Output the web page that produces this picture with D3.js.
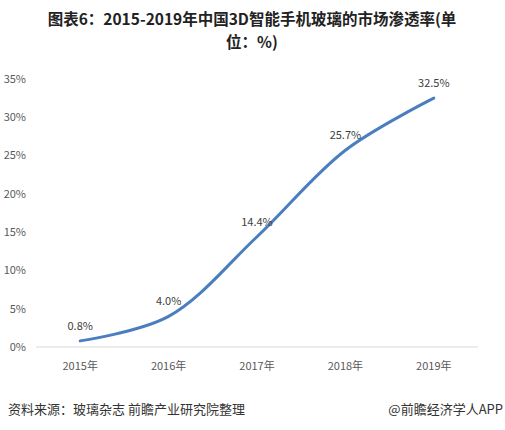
<!DOCTYPE html>
<html><head><meta charset="utf-8">
<script src="https://cdn.jsdelivr.net/npm/d3@7"></script>
<style>body{margin:0;background:#fff;}svg{display:block;font-family:"Microsoft YaHei","Noto Sans CJK SC",sans-serif;}</style>
</head><body>
<svg id="c" width="505" height="430"></svg>
<script>
const categories = ["2015年","2016年","2017年","2018年","2019年"];
const values = [0.8, 4.0, 14.4, 25.7, 32.5];
const valueLabels = ["0.8%","4.0%","14.4%","25.7%","32.5%"];
const yTicks = [0,5,10,15,20,25,30,35];

const svg = d3.select("#c");
svg.append("rect").attr("width",505).attr("height",430).attr("fill","#fff");

const x = d3.scaleBand().domain(categories).range([36,478]);
const y = d3.scaleLinear().domain([0,35]).range([347,79]);

// title
const title = svg.append("text").attr("text-anchor","middle").attr("fill","#222")
  .style("font-weight","bold").style("font-size","15.5px");
title.append("tspan").attr("x",252).attr("y",25).text("图表6：2015-2019年中国3D智能手机玻璃的市场渗透率(单");
title.append("tspan").attr("x",252).attr("y",48).text("位：%)");

// y axis labels
svg.append("g").selectAll("text").data(yTicks).join("text")
  .attr("x",26).attr("y",d=>y(d)).attr("dy","0.35em").attr("text-anchor","end")
  .attr("fill","#595959").style("font-size","11px").text(d=>d+"%");

// x axis
svg.append("line").attr("x1",x.range()[0]).attr("x2",x.range()[1])
  .attr("y1",y(0)).attr("y2",y(0)).attr("stroke","#d9d9d9").attr("stroke-width",1);
svg.append("g").selectAll("text").data(categories).join("text")
  .attr("x",d=>x(d)+x.bandwidth()/2).attr("y",366).attr("dy","0.35em").attr("text-anchor","middle")
  .attr("fill","#595959").style("font-size","11px").text(d=>d);

// line
const line = d3.line().x((d,i)=>x(categories[i])+x.bandwidth()/2).y(d=>y(d)).curve(d3.curveCatmullRom.alpha(0.5));
svg.append("path").datum(values).attr("d",line).attr("fill","none")
  .attr("stroke","#4a7ebf").attr("stroke-width",3).attr("stroke-linecap","round");

// labels
svg.append("g").selectAll("text").data(values).join("text")
  .attr("x",(d,i)=>x(categories[i])+x.bandwidth()/2).attr("y",d=>y(d)-15).attr("dy","0.35em")
  .attr("text-anchor","middle").attr("fill","#404040").style("font-size","11px")
  .text((d,i)=>valueLabels[i]);

// footer
svg.append("text").attr("x",8).attr("y",414).attr("fill","#333").style("font-size","13px")
  .text("资料来源：玻璃杂志 前瞻产业研究院整理");
svg.append("text").attr("x",503).attr("y",414).attr("text-anchor","end").attr("fill","#333").style("font-size","13px")
  .text("@前瞻经济学人APP");
</script>
</body></html>
